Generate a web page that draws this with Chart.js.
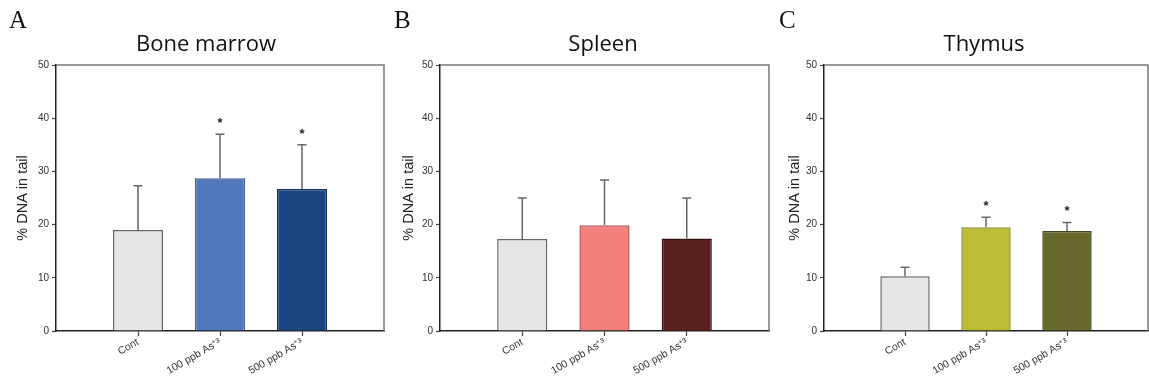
<!DOCTYPE html>
<html>
<head>
<meta charset="utf-8">
<script src="https://cdn.jsdelivr.net/npm/chart.js@4.4.1/dist/chart.umd.min.js"></script>
<style>
  html, body { margin: 0; padding: 0; background: #fff; }
  #wrap { position: relative; width: 1149px; height: 388px; overflow: hidden; }
  canvas { position: absolute; top: 0; }
  .letter { position: absolute; top: 6px; font: 25px "Liberation Serif", serif; color: #111; }
  .title { position: absolute; top: 27px; font: 22px "Open Sans", sans-serif; color: #111; transform: translateX(-50%); white-space: nowrap; }
</style>
</head>
<body>
<div id="wrap">
  <canvas id="cA" width="386" height="388" style="left:0px"></canvas>
  <canvas id="cB" width="386" height="388" style="left:386px"></canvas>
  <canvas id="cC" width="377" height="388" style="left:772px"></canvas>
  <div class="letter" style="left:9px">A</div>
  <div class="letter" style="left:394px">B</div>
  <div class="letter" style="left:779px">C</div>
  <div class="title" style="left:206px">Bone marrow</div>
  <div class="title" style="left:603px">Spleen</div>
  <div class="title" style="left:984px">Thymus</div>
</div>
<script>
const categories = ["Cont", "100 ppb As⁺³", "500 ppb As⁺³"];
const yTicks = [0, 10, 20, 30, 40, 50];

const boneMean = [19.0, 28.7, 26.7];
const boneErr = [8.3, 8.3, 8.3];
const boneStar = [false, true, true];

const spleenMean = [17.3, 19.9, 17.4];
const spleenErr = [7.7, 8.5, 7.6];
const spleenStar = [false, false, false];

const thymusMean = [10.3, 19.5, 18.8];
const thymusErr = [1.7, 1.9, 1.6];
const thymusStar = [false, true, true];

// empty slots either side so bars sit at 1/4, 2/4, 3/4 of the axis
const pad = (arr, v) => [v, ...arr, v];

const errorBars = {
  id: "errorBars",
  afterDatasetsDraw(chart) {
    const { ctx } = chart;
    const meta = chart.getDatasetMeta(0);
    const y = chart.scales.y;
    const opts = chart.options.plugins.errorBars;
    ctx.save();
    ctx.strokeStyle = "#666";
    ctx.lineWidth = 1.5;
    opts.err.forEach((e, i) => {
      const bar = meta.data[i + 1];
      const top = y.getPixelForValue(opts.mean[i] + e);
      ctx.beginPath();
      ctx.moveTo(bar.x, bar.y);
      ctx.lineTo(bar.x, top);
      ctx.moveTo(bar.x - 4.5, top);
      ctx.lineTo(bar.x + 4.5, top);
      ctx.stroke();
      if (opts.star[i]) {
        ctx.fillStyle = "#222";
        ctx.font = "bold 13px 'Liberation Sans', Arial";
        ctx.textAlign = "center";
        ctx.textBaseline = "middle";
        ctx.fillText("*", bar.x, y.getPixelForValue(opts.mean[i] + e + 2.6) + 3);
      }
    });
    ctx.restore();
  },
};

const frame = {
  id: "frame",
  afterDraw(chart) {
    const { ctx, chartArea: a } = chart;
    ctx.save();
    ctx.strokeStyle = "#777";
    ctx.lineWidth = 1.5;
    ctx.beginPath();
    ctx.moveTo(a.left, a.top);
    ctx.lineTo(a.right, a.top);
    ctx.lineTo(a.right, a.bottom);
    ctx.stroke();
    ctx.restore();
  },
};

function makePanel(id, mean, err, star, fills, borders, yWidth, padRight) {
  new Chart(document.getElementById(id), {
    type: "bar",
    data: {
      labels: pad(categories, ""),
      datasets: [{
        data: pad(mean, null),
        backgroundColor: pad(fills, "transparent"),
        borderColor: pad(borders, "transparent"),
        borderWidth: 1.5,
        barPercentage: 0.61,
        categoryPercentage: 1,
      }],
    },
    options: {
      responsive: false,
      animation: false,
      layout: { padding: { top: 65, right: padRight, left: 0, bottom: 0 } },
      plugins: {
        legend: { display: false },
        tooltip: { enabled: false },
        errorBars: { mean, err, star },
      },
      scales: {
        x: {
          offset: false,
          border: { color: "#222", width: 1.5 },
          grid: {
            offset: false,
            drawOnChartArea: false,
            tickLength: 5,
            tickWidth: 1.2,
            tickColor: (c) => (c.index === 0 || c.index === 4 ? "rgba(0,0,0,0)" : "#444"),
          },
          ticks: {
            color: "#333",
            font: { family: "'Liberation Sans', Arial", size: 10.5 },
            maxRotation: 30,
            minRotation: 30,
            padding: 0,
            autoSkip: false,
          },
          afterFit: (s) => { s.height = 57; s.paddingLeft = 0; s.paddingRight = 0; },
        },
        y: {
          min: 0,
          max: 50,
          afterBuildTicks: (s) => { s.ticks = yTicks.map((v) => ({ value: v })); },
          border: { color: "#222", width: 1.5 },
          grid: { drawOnChartArea: false, tickLength: 4, tickColor: "#444", tickWidth: 1.2 },
          ticks: {
            color: "#333",
            font: { family: "'Liberation Sans', Arial", size: 10 },
            padding: 3,
          },
          title: {
            display: true,
            text: "% DNA in tail",
            color: "#222",
            font: { family: "'Liberation Sans', Arial", size: 14.5 },
            padding: { top: 14, bottom: 0 },
          },
          afterFit: (s) => { s.width = yWidth; },
        },
      },
    },
    plugins: [errorBars, frame],
  });
}

makePanel("cA", boneMean, boneErr, boneStar,
  ["#e6e6e6", "#5079bc", "#1b4681"], ["#666", "#3f5f95", "#142f5a"], 56, 2);
makePanel("cB", spleenMean, spleenErr, spleenStar,
  ["#e6e6e6", "#f4807b", "#5c201c"], ["#666", "#b05555", "#3a1410"], 54, 3);
makePanel("cC", thymusMean, thymusErr, thymusStar,
  ["#e6e6e6", "#bebd35", "#67682b"], ["#666", "#8a8a25", "#45461c"], 52, 1);
</script>
</body>
</html>
